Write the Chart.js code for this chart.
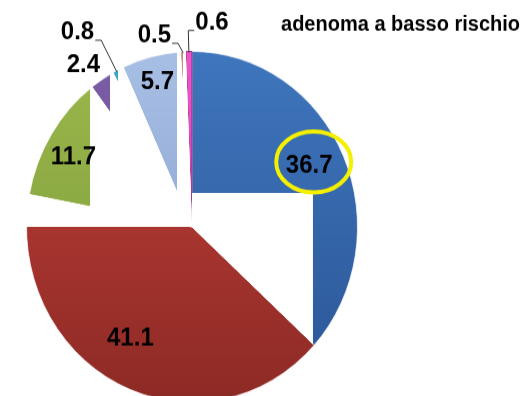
<!DOCTYPE html>
<html><head><meta charset="utf-8">
<script src="https://cdn.jsdelivr.net/npm/chart.js@4"></script>
<style>
html,body{margin:0;padding:0;background:#fff;}
#wrap{width:525px;height:396px;overflow:hidden;position:relative;}
</style></head><body>
<div id="wrap"><canvas id="c" width="525" height="400" style="display:block;width:525px;height:423.53px;"></canvas></div>
<script>
// ---- data ----
const seriesTitle = 'adenoma a basso rischio';
const categories = ['categoria 1','categoria 2','categoria 3','categoria 4','categoria 5','categoria 6','categoria 7','categoria 8','categoria 9'];
const values = [36.7, 41.1, 11.7, 2.4, 0.8, 0.3, 5.7, 0.5, 0.6];
const shownLabels = [true, true, true, true, true, false, true, true, true];

// ---- styles ----
const sliceTop    = ['#3f76bd','#c33f39','#9ab84c','#7d5ea8','#38abc8','#f08a3a','#a8bfe5','#c98a84','#ec55cc'];
const sliceBottom = ['#2a5596','#8d2a25','#7c9a37','#5f4587','#2a8aa6','#d06a20','#8199c9','#a86a64','#cc38ac'];
const sliceBorder = ['rgba(255,255,255,0.7)','rgba(255,255,255,0.7)','rgba(255,255,255,0.7)','rgba(255,255,255,0.7)','rgba(255,255,255,0.7)','rgba(255,255,255,0.7)','rgba(255,255,255,0.7)','rgba(255,255,255,0.7)','#8a2f78'];
// label placement: angular nudge (deg) and radius factor
const labelLayout = [
  {da:-2.5, rf:0.79}, {da:3.7, rf:0.74}, {da:-2.7, rf:0.82}, {da:-2.7, rf:1.13},
  {da:-4.9, rf:1.307, leader:true}, null, {da:0, rf:0.85},
  {da:-8.7, rf:1.115, leader:true}, {da:7, rf:1.171, leader:true}
];
// white masking boxes inside slices (fractions of radius, relative to centre)
const maskBoxes = [
  {x0:0, x1:0.729, y0:-0.193, y1:2},
  {x0:-2, x1:2, y0:-2, y1:0},
  {x0:-0.614, x1:2, y0:-2, y1:2},
  {x0:-0.494, x1:2, y0:-2, y1:2},
  {x0:-0.446, x1:2, y0:-2, y1:2},
  {x0:-0.446, x1:2, y0:-2, y1:2},
  {x0:-0.09, x1:2, y0:-2, y1:2},
  {x0:-0.054, x1:2, y0:-2, y1:2},
  null
];
const FONT = '"Liberation Sans", Arial, sans-serif';

const decoPlugin = {
  id: 'deco',
  afterDatasetsDraw(chart) {
    const ctx = chart.ctx;
    const meta = chart.getDatasetMeta(0);
    const arcs = meta.data.map(a => a.getProps(['x','y','startAngle','endAngle','outerRadius'], true));
    // masks
    for (let pass = 0; pass < 3; pass++) {
      arcs.forEach((p, i) => {
        const m = maskBoxes[i];
        if (!m) return;
        const r = p.outerRadius;
        ctx.save();
        ctx.beginPath();
        ctx.moveTo(p.x, p.y);
        ctx.arc(p.x, p.y, r + 2, p.startAngle, p.endAngle);
        ctx.closePath();
        ctx.clip();
        ctx.fillStyle = '#ffffff';
        ctx.fillRect(p.x + m.x0 * r, p.y + m.y0 * r, (m.x1 - m.x0) * r, (m.y1 - m.y0) * r);
        ctx.restore();
      });
    }
    // labels
    ctx.save();
    ctx.font = 'bold 24px ' + FONT;
    ctx.textAlign = 'center';
    ctx.textBaseline = 'middle';
    arcs.forEach((p, i) => {
      const L = labelLayout[i];
      if (!L || !shownLabels[i]) return;
      const r = p.outerRadius;
      const mid = (p.startAngle + p.endAngle) / 2;
      const a = mid + L.da * Math.PI / 180;
      const lx = p.x + L.rf * r * Math.cos(a);
      const ly = p.y + L.rf * r * Math.sin(a);
      const txt = values[i].toFixed(1);
      ctx.fillStyle = '#000';
      ctx.fillText(txt, lx, ly);
      if (L.leader) {
        const w = ctx.measureText(txt).width;
        const cxp = p.x + r * Math.cos(mid);
        const cyp = p.y + r * Math.sin(mid);
        const dir = cxp > lx ? 1 : -1;
        const ax = lx + dir * (w / 2 + 1);
        const ay = ly + 7.5;
        ctx.beginPath();
        ctx.moveTo(ax, ay);
        ctx.lineTo(ax + dir * 6, ay);
        ctx.lineTo(cxp, cyp + 1);
        ctx.strokeStyle = '#333';
        ctx.lineWidth = 1;
        ctx.stroke();
      }
      if (i === 0) {
        ctx.beginPath();
        ctx.ellipse(lx + 4.5, ly - 3.3, 37.5, 28.8, 0, 0, Math.PI * 2);
        ctx.strokeStyle = '#f5ef00';
        ctx.lineWidth = 4;
        ctx.stroke();
      }
    });
    ctx.restore();
  },
  afterDraw(chart) {
    const ctx = chart.ctx;
    ctx.save();
    ctx.font = 'bold 20px ' + FONT;
    ctx.fillStyle = '#000';
    ctx.textAlign = 'right';
    ctx.textBaseline = 'alphabetic';
    ctx.fillText(seriesTitle, 520, 29.3);
    ctx.restore();
  }
};

new Chart(document.getElementById('c'), {
  type: 'pie',
  data: {
    labels: categories,
    datasets: [{
      label: seriesTitle,
      data: values,
      backgroundColor: (c) => {
        const i = c.dataIndex;
        const area = c.chart.chartArea;
        if (!area || i === undefined) return sliceTop[i] || '#888';
        const g = c.chart.ctx.createLinearGradient(0, area.top, 0, area.bottom);
        g.addColorStop(0, sliceTop[i]);
        g.addColorStop(1, sliceBottom[i]);
        return g;
      },
      borderColor: sliceBorder,
      borderWidth: 1
    }]
  },
  options: {
    responsive: false,
    devicePixelRatio: 1,
    animation: false,
    layout: { padding: { left: 26, right: 167, top: 48, bottom: 20 } },
    plugins: {
      legend: { display: false },
      tooltip: { enabled: false },
      title: { display: false }
    }
  },
  plugins: [decoPlugin]
});
</script>
</body></html>
